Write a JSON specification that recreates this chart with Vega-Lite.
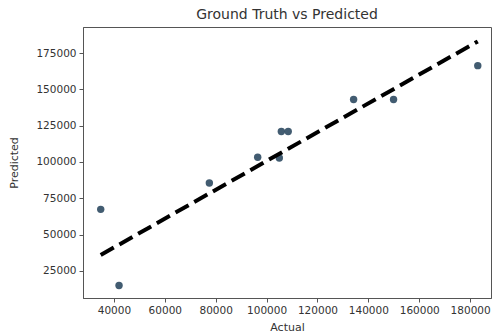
{
  "$schema": "https://vega.github.io/schema/vega-lite/v6.json",
  "width": 408,
  "height": 271,
  "autosize": {"type": "none"},
  "padding": {"left": 83, "top": 27, "right": 1, "bottom": 37},
  "background": "white",
  "title": {"text": "Ground Truth vs Predicted", "font": "DejaVu Sans", "fontSize": 14, "fontWeight": "normal", "color": "#333333", "offset": 5},
  "config": {
    "view": {"stroke": "#555555", "strokeWidth": 1},
    "axis": {"grid": false, "labelFont": "DejaVu Sans", "titleFont": "DejaVu Sans", "labelFontSize": 10.5, "titleFontSize": 11, "titleFontWeight": "normal", "labelColor": "#333333", "titleColor": "#333333", "domainColor": "#555555", "tickColor": "#555555", "tickSize": 4, "labelPadding": 3}
  },
  "datasets": {
    "points": [
      {"actual": 34800, "predicted": 67400},
      {"actual": 42000, "predicted": 15000},
      {"actual": 77500, "predicted": 85500},
      {"actual": 96500, "predicted": 103300},
      {"actual": 105000, "predicted": 102800},
      {"actual": 105800, "predicted": 121000},
      {"actual": 108500, "predicted": 121000},
      {"actual": 134200, "predicted": 143000},
      {"actual": 149900, "predicted": 143000},
      {"actual": 183000, "predicted": 166300}
    ],
    "ideal": [
      {"actual": 34800, "predicted": 36000},
      {"actual": 183000, "predicted": 183000}
    ]
  },
  "layer": [
    {
      "data": {"name": "points"},
      "mark": {"type": "point", "filled": true, "size": 55, "color": "#2e4a62", "opacity": 0.9},
      "encoding": {
        "x": {"field": "actual", "type": "quantitative", "title": "Actual", "scale": {"domain": [27840, 188200], "nice": false, "zero": false}, "axis": {"values": [40000, 60000, 80000, 100000, 120000, 140000, 160000, 180000], "format": "d", "titlePadding": 6}},
        "y": {"field": "predicted", "type": "quantitative", "title": "Predicted", "scale": {"domain": [6400, 192900], "nice": false, "zero": false}, "axis": {"values": [25000, 50000, 75000, 100000, 125000, 150000, 175000], "format": "d", "titlePadding": 16}}
      }
    },
    {
      "data": {"name": "ideal"},
      "mark": {"type": "line", "color": "black", "strokeWidth": 4, "strokeDash": [15, 6.5]},
      "encoding": {
        "x": {"field": "actual", "type": "quantitative"},
        "y": {"field": "predicted", "type": "quantitative"}
      }
    }
  ]
}
